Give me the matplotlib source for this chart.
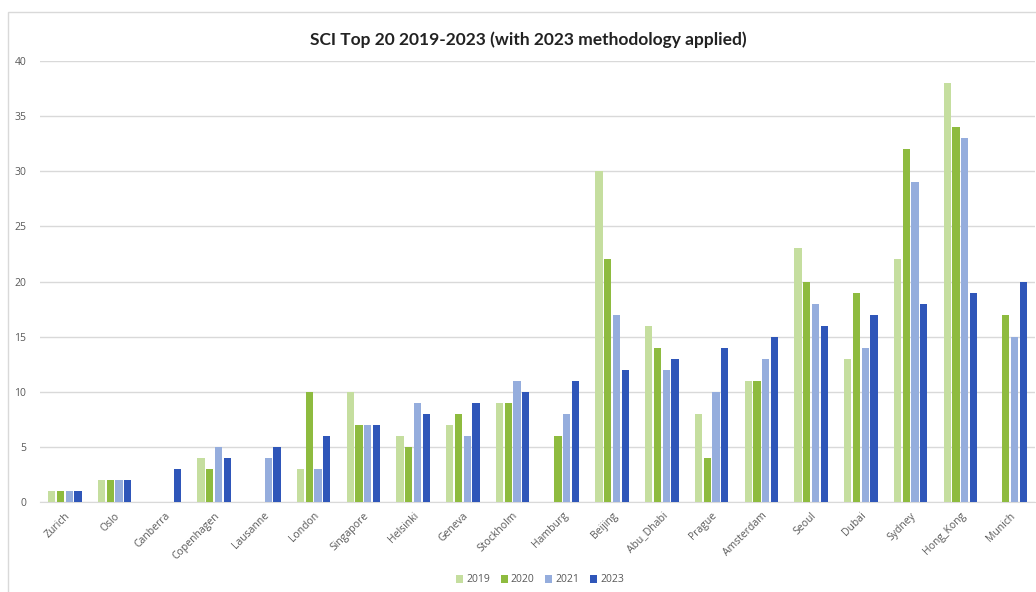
import matplotlib
matplotlib.use("Agg")
import matplotlib.pyplot as plt
from matplotlib.patches import Rectangle
import numpy as np

cities = ["Zurich", "Oslo", "Canberra", "Copenhagen", "Lausanne", "London",
          "Singapore", "Helsinki", "Geneva", "Stockholm", "Hamburg", "Beijing",
          "Abu_Dhabi", "Prague", "Amsterdam", "Seoul", "Dubai", "Sydney",
          "Hong_Kong", "Munich"]
years = ["2019", "2020", "2021", "2023"]
rank_2019 = [1, 2, 0, 4, 0, 3, 10, 6, 7, 9, 0, 30, 16, 8, 11, 23, 13, 22, 38, 0]
rank_2020 = [1, 2, 0, 3, 0, 10, 7, 5, 8, 9, 6, 22, 14, 4, 11, 20, 19, 32, 34, 17]
rank_2021 = [1, 2, 0, 5, 4, 3, 7, 9, 6, 11, 8, 17, 12, 10, 13, 18, 14, 29, 33, 15]
rank_2023 = [1, 2, 3, 4, 5, 6, 7, 8, 9, 10, 11, 12, 13, 14, 15, 16, 17, 18, 19, 20]
yticks = [0, 5, 10, 15, 20, 25, 30, 35, 40]

colors = ["#c5de9f", "#8ebb3f", "#95addd", "#2f56b9"]
series = [rank_2019, rank_2020, rank_2021, rank_2023]

W, H = 1036, 592
fig = plt.figure(figsize=(W / 100, H / 100), dpi=100)
fig.patch.set_facecolor("white")

# outer chart frame
fig.patches.append(Rectangle((8 / W, -0.1), 1.2, 1 - 12 / H + 0.1,
                             transform=fig.transFigure, fill=False,
                             edgecolor="#d9d9d9", linewidth=1.0))

ax = fig.add_axes([40 / W, 1 - 502 / H, 995 / W, (502 - 61) / H])
x = np.arange(len(cities))
slot = 0.175
bw = 0.146
for i, (vals, c, lab) in enumerate(zip(series, colors, years)):
    ax.bar(x + (i - 1.5) * slot, vals, width=bw, color=c, label=lab, zorder=3)

ax.set_xlim(-0.5, len(cities) - 0.5)
ax.set_ylim(0, 40)
ax.set_yticks(yticks)
ax.set_yticklabels([str(t) for t in yticks], fontsize=7.5, color="#595959",
                   family="Open Sans")
ax.set_xticks(x)
ax.set_xticklabels(cities, rotation=45, ha="right", rotation_mode="anchor",
                   fontsize=7.5, color="#595959", family="Open Sans")
ax.tick_params(axis="both", length=0)
ax.tick_params(axis="y", pad=10)
ax.tick_params(axis="x", pad=6)
ax.grid(axis="y", color="#d9d9d9", linewidth=1.0, zorder=0)
for s in ["left", "right", "top"]:
    ax.spines[s].set_visible(False)
ax.spines["bottom"].set_color("#d9d9d9")

fig.text(528 / W, 1 - 40 / H, "SCI Top 20 2019-2023 (with 2023 methodology applied)",
         ha="center", va="center", fontsize=12.5, fontweight="bold",
         family="Lato", color="#222222")

leg = fig.legend(loc="center", bbox_to_anchor=(540 / W, 1 - 580 / H), ncol=4,
                 frameon=False, fontsize=7.5, handlelength=0.7, handleheight=0.7,
                 handletextpad=0.3, columnspacing=1.0,
                 prop={"family": "Open Sans", "size": 7.5})
for t in leg.get_texts():
    t.set_color("#595959")

fig.savefig("out.png", dpi=100)
